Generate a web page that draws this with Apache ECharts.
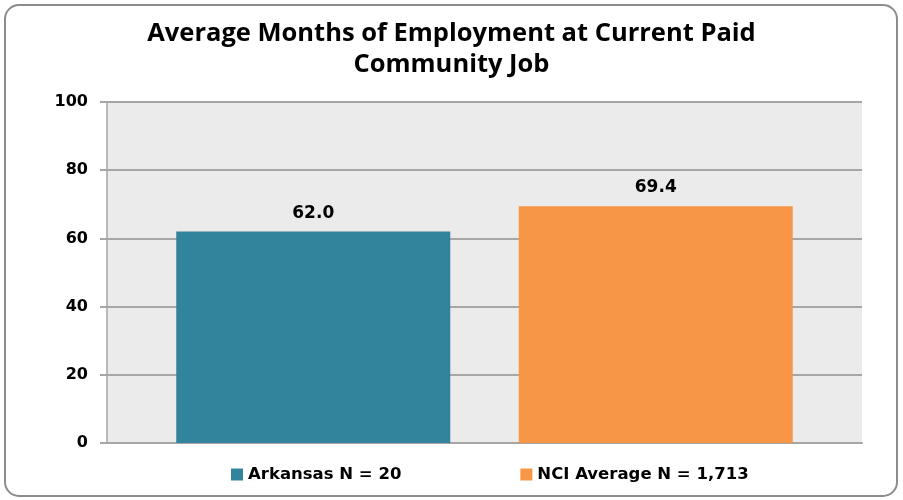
<!DOCTYPE html>
<html><head><meta charset="utf-8">
<script src="https://cdn.jsdelivr.net/npm/echarts@6/dist/echarts.min.js"></script>
<style>html,body{margin:0;padding:0;background:#fff}#c{width:903px;height:500px}</style>
</head><body><div id="c"></div>
<script>
const titleText = 'Average Months of Employment at Current Paid\nCommunity Job';
const categories = [''];
const seriesNames = ['Arkansas N = 20', 'NCI Average N = 1,713'];
const arkansasValues = [62.0];
const nciValues = [69.4];
const yTicks = {min: 0, max: 100, interval: 20};
const colors = ['#31849B', '#F79646'];

const chart = echarts.init(document.getElementById('c'), null, {renderer: 'canvas'});
const labelStyle = {show: true, position: 'top', distance: 10, fontFamily: 'DejaVu Sans', fontWeight: 'bold', fontSize: 17, color: '#000', formatter: p => p.value.toFixed(1)};
chart.setOption({
  animation: false,
  backgroundColor: '#fff',
  graphic: [{type: 'rect', shape: {x: 5, y: 5, width: 892, height: 491, r: 14}, style: {fill: 'none', stroke: '#8c8c8c', lineWidth: 2}, z: -1}],
  title: {text: titleText, left: 'center', top: 13, textStyle: {fontFamily: 'Open Sans', fontWeight: 'bold', fontSize: 25.5, lineHeight: 31, color: '#000'}},
  legend: {bottom: 12, left: 226, itemWidth: 12, itemHeight: 12, itemGap: 119, icon: 'rect', textStyle: {fontFamily: 'DejaVu Sans', fontWeight: 'bold', fontSize: 16.5, color: '#000'}, data: seriesNames},
  grid: {left: 107, right: 41, top: 102, bottom: 57, show: true, backgroundColor: '#EBEBEB', borderWidth: 0, containLabel: false},
  xAxis: {type: 'category', data: categories, axisLine: {lineStyle: {color: '#a6a6a6', width: 2}}, axisTick: {show: false}, axisLabel: {show: false}},
  yAxis: {type: 'value', min: yTicks.min, max: yTicks.max, interval: yTicks.interval,
    axisLine: {show: true, lineStyle: {color: '#a6a6a6', width: 1.5}},
    axisTick: {show: true, length: 7, lineStyle: {color: '#a6a6a6', width: 2}},
    splitLine: {lineStyle: {color: '#a6a6a6', width: 2}},
    axisLabel: {fontFamily: 'DejaVu Sans', fontWeight: 'bold', fontSize: 16, color: '#000', margin: 19}},
  series: [
    {name: seriesNames[0], type: 'bar', data: arkansasValues, barWidth: 274, barGap: '25%', itemStyle: {color: colors[0]}, label: labelStyle},
    {name: seriesNames[1], type: 'bar', data: nciValues, barWidth: 274, itemStyle: {color: colors[1]}, label: labelStyle}
  ]
});
</script></body></html>
